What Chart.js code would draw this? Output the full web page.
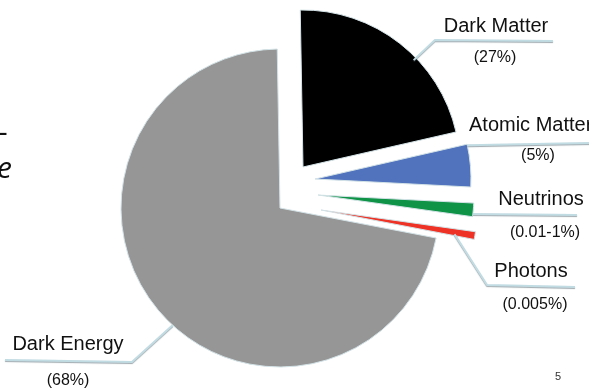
<!DOCTYPE html>
<html>
<head>
<meta charset="utf-8">
<title>What the universe is made of</title>
<script src="https://cdn.jsdelivr.net/npm/chart.js@4.4.1/dist/chart.umd.min.js"></script>
<style>
  html, body { margin: 0; padding: 0; background: #fff; }
  #wrap { position: relative; width: 589px; height: 388px; overflow: hidden; }
</style>
</head>
<body>
<div id="wrap"><canvas id="pieChart" width="589" height="388"></canvas></div>
<script>
/* Universe content pie - slices pulled apart like on the slide */

// slices, clockwise from 12 o'clock
const categories = ['Dark Matter', 'Atomic Matter', 'Neutrinos', 'Photons', 'Dark Energy'];
const shareLabels = ['(27%)', '(5%)', '(0.01-1%)', '(0.005%)', '(68%)'];
// share of the circle each slice takes in the picture (the tiny ones are exaggerated there)
const sliceShare = [21.7, 4.4, 1.4, 0.8, 71.7];
const sliceColors = ['#000000', '#5173be', '#0f9347', '#ee3326', '#969696'];

const FONT = "'Liberation Sans', Arial, sans-serif";

// moves each slice by its own (dx, dy) - chart.js offset only goes along the mid angle
const explodePlugin = {
  id: 'explode',
  afterDatasetUpdate(chart, args, opts) {
    args.meta.data.forEach((arc, i) => {
      const shift = opts.shift[i] || [0, 0];
      arc.x += shift[0];
      arc.y += shift[1];
      if (opts.radius[i]) arc.outerRadius = opts.radius[i];
    });
  }
};

// leader lines + the two-line labels
const calloutPlugin = {
  id: 'callouts',
  afterDraw(chart, args, opts) {
    const ctx = chart.ctx;
    const arcs = chart.getDatasetMeta(0).data;
    opts.items.forEach((item, i) => {
      const arc = arcs[i];
      const a = (item.angle - 90) * Math.PI / 180;
      const r = arc.outerRadius * item.r;
      ctx.save();
      ctx.strokeStyle = '#c2dce3';
      ctx.lineWidth = 2;
      ctx.lineJoin = 'round';
      ctx.shadowColor = 'rgba(80,100,110,0.55)';
      ctx.shadowOffsetY = 1;
      ctx.shadowBlur = 1;
      ctx.beginPath();
      ctx.moveTo(arc.x + Math.cos(a) * r, arc.y + Math.sin(a) * r);
      item.path.forEach(p => ctx.lineTo(p[0], p[1]));
      ctx.stroke();
      ctx.restore();

      ctx.save();
      ctx.fillStyle = '#111';
      ctx.textBaseline = 'alphabetic';
      ctx.font = '20px ' + FONT;
      ctx.textAlign = item.name.align || 'center';
      ctx.fillText(categories[i], item.name.x, item.name.y);
      ctx.font = '16px ' + FONT;
      ctx.textAlign = 'center';
      ctx.fillText(shareLabels[i], item.pct.x, item.pct.y);
      ctx.restore();
    });

    // bits of the slide around the chart
    ctx.save();
    ctx.fillStyle = '#111';
    ctx.font = "30px 'Open Sans', sans-serif";
    ctx.fillText('-', -2, 142);
    ctx.font = "italic 30px 'Open Sans', sans-serif";
    ctx.fillText('e', -3, 178);
    ctx.fillStyle = '#333';
    ctx.font = "11px 'Liberation Sans', Arial, sans-serif";
    ctx.fillText('5', 555, 380);
    ctx.restore();
  }
};

new Chart(document.getElementById('pieChart'), {
  type: 'pie',
  data: {
    labels: categories,
    datasets: [{
      data: sliceShare,
      backgroundColor: sliceColors,
      borderColor: '#d3e2e6',
      borderWidth: 1,
      radius: 157,
      clip: false
    }]
  },
  options: {
    responsive: false,
    animation: false,
    events: [],
    rotation: -1,
    layout: { padding: { left: 0, right: 29, top: 28, bottom: 0 } },
    plugins: {
      legend: { display: false },
      tooltip: { enabled: false },
      explode: {
        shift: [[23, -41], [35, -29], [38, -13], [41, 2], [0, 0]],
        radius: [157, 156, 156, 156, 159]
      },
      callouts: {
        items: [
          { angle: 46, r: 0.98, path: [[435, 40], [553, 41]],
            name: { x: 496, y: 32 }, pct: { x: 495, y: 62 } },
          { angle: 77.5, r: 1, path: [[592, 143]],
            name: { x: 469, y: 131, align: 'left' }, pct: { x: 538, y: 160 } },
          { angle: 97, r: 1, path: [[577, 215]],
            name: { x: 541, y: 205 }, pct: { x: 545, y: 237 } },
          { angle: 100.3, r: 0.87, path: [[487, 285], [575, 287]],
            name: { x: 531, y: 277 }, pct: { x: 535, y: 309 } },
          { angle: 222.5, r: 1, path: [[132, 362], [5, 360]],
            name: { x: 68, y: 350 }, pct: { x: 68, y: 385 } }
        ]
      }
    }
  },
  plugins: [explodePlugin, calloutPlugin]
});
</script>
</body>
</html>
